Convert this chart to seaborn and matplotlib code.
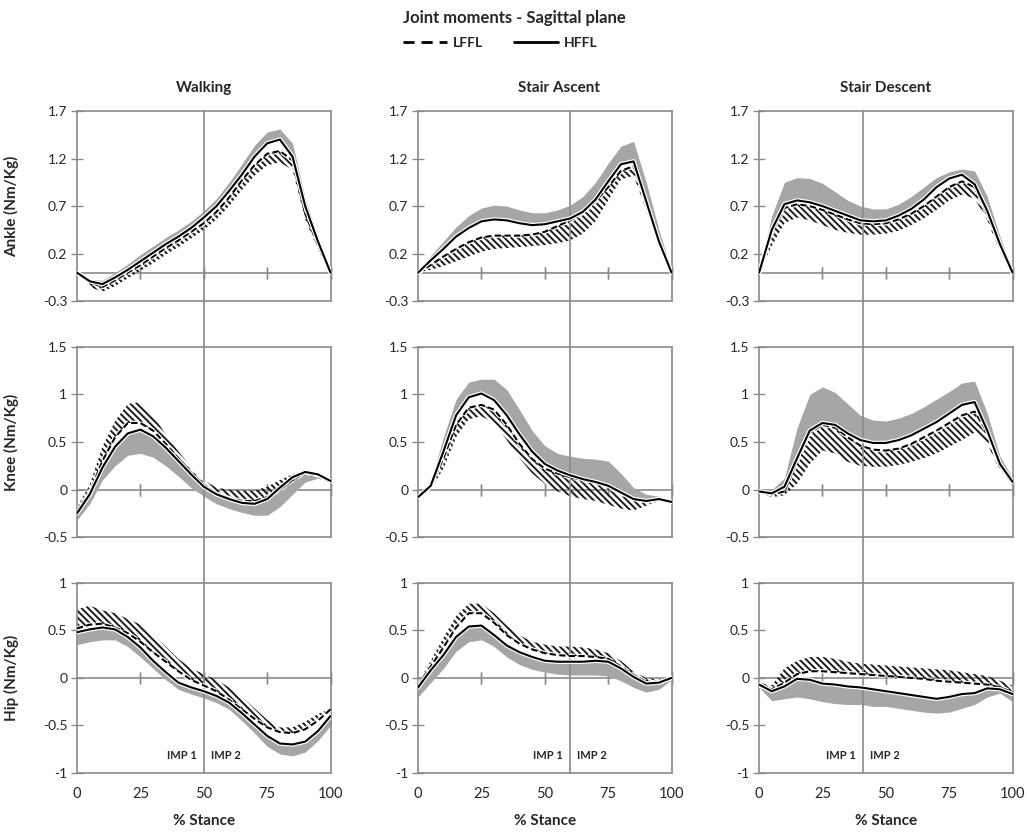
import matplotlib
matplotlib.use("Agg")
import matplotlib.pyplot as plt
from matplotlib.lines import Line2D
import matplotlib.patheffects as pe
import numpy as np
import pandas as pd
import seaborn as sns

# ---------------- data ----------------
PCT = list(range(0, 101, 5))
TASKS = ["Walking", "Stair Ascent", "Stair Descent"]
JOINTS = ["Ankle (Nm/Kg)", "Knee (Nm/Kg)", "Hip (Nm/Kg)"]
SPLIT = [50, 60, 41]          # IMP1 / IMP2 boundary (% stance)
GROUPS = ["LFFL", "HFFL"]
XTICKS = [0, 25, 50, 75, 100]
YTICKS_ANKLE = [-0.3, 0.2, 0.7, 1.2, 1.7]
YTICKS_KNEE = [-0.5, 0, 0.5, 1, 1.5]
YTICKS_HIP = [-1, -0.5, 0, 0.5, 1]
YLABELS_ANKLE = ["-0.3", "0.2", "0.7", "1.2", "1.7"]
YLABELS_KNEE = ["-0.5", "0", "0.5", "1", "1.5"]
YLABELS_HIP = ["-1", "-0.5", "0", "0.5", "1"]

# Ankle - walking
WA_ANK_H = [0, -0.09, -0.12, -0.05, 0.03, 0.12, 0.21, 0.30, 0.38, 0.47, 0.58, 0.70, 0.86, 1.03, 1.22, 1.36, 1.40, 1.22, 0.70, 0.33, 0]
WA_ANK_H_SD = [0.01, -0.07, -0.08, 0.0, 0.09, 0.19, 0.28, 0.37, 0.45, 0.54, 0.65, 0.78, 0.95, 1.14, 1.34, 1.48, 1.51, 1.36, 0.78, 0.37, 0.01]
WA_ANK_L = [0, -0.10, -0.15, -0.08, 0.0, 0.08, 0.17, 0.26, 0.34, 0.43, 0.52, 0.64, 0.79, 0.97, 1.13, 1.25, 1.28, 1.18, 0.62, 0.29, 0]
WA_ANK_L_SD = [0, -0.15, -0.20, -0.14, -0.06, 0.02, 0.10, 0.19, 0.27, 0.36, 0.45, 0.56, 0.70, 0.87, 1.02, 1.13, 1.16, 1.08, 0.56, 0.24, 0]
# Ankle - stair ascent
SA_ANK_H = [0, 0.13, 0.25, 0.38, 0.47, 0.54, 0.56, 0.55, 0.52, 0.50, 0.51, 0.54, 0.57, 0.64, 0.77, 0.96, 1.14, 1.17, 0.75, 0.33, 0]
SA_ANK_H_SD = [0.01, 0.18, 0.33, 0.48, 0.60, 0.68, 0.71, 0.70, 0.66, 0.63, 0.63, 0.66, 0.71, 0.80, 0.95, 1.15, 1.33, 1.38, 0.95, 0.45, 0.02]
SA_ANK_L = [0, 0.08, 0.17, 0.25, 0.32, 0.37, 0.39, 0.39, 0.39, 0.40, 0.43, 0.49, 0.55, 0.63, 0.75, 0.90, 1.07, 1.12, 0.73, 0.32, 0]
SA_ANK_L_SD = [0, 0.03, 0.07, 0.12, 0.17, 0.22, 0.25, 0.26, 0.27, 0.28, 0.29, 0.31, 0.34, 0.41, 0.54, 0.76, 0.98, 1.02, 0.66, 0.28, 0]
# Ankle - stair descent
SD_ANK_H = [0, 0.45, 0.72, 0.76, 0.74, 0.70, 0.65, 0.60, 0.55, 0.54, 0.55, 0.60, 0.67, 0.77, 0.90, 0.99, 1.03, 0.93, 0.65, 0.30, 0]
SD_ANK_H_SD = [0.01, 0.60, 0.95, 1.00, 0.99, 0.94, 0.85, 0.76, 0.70, 0.67, 0.67, 0.72, 0.80, 0.90, 1.00, 1.06, 1.09, 1.07, 0.80, 0.38, 0.02]
SD_ANK_L = [0, 0.42, 0.68, 0.72, 0.70, 0.66, 0.61, 0.56, 0.52, 0.51, 0.52, 0.56, 0.62, 0.70, 0.80, 0.90, 0.96, 0.90, 0.62, 0.28, 0]
SD_ANK_L_SD = [0, 0.28, 0.52, 0.58, 0.55, 0.50, 0.45, 0.42, 0.40, 0.40, 0.41, 0.44, 0.50, 0.57, 0.66, 0.76, 0.82, 0.78, 0.55, 0.22, 0]

# Knee - walking
WA_KNE_H = [-0.25, -0.05, 0.23, 0.45, 0.59, 0.63, 0.56, 0.44, 0.30, 0.16, 0.03, -0.05, -0.10, -0.14, -0.15, -0.10, 0.02, 0.13, 0.185, 0.16, 0.09]
WA_KNE_H_SD = [-0.32, -0.15, 0.10, 0.25, 0.36, 0.38, 0.34, 0.25, 0.14, 0.02, -0.07, -0.15, -0.20, -0.24, -0.27, -0.27, -0.18, -0.05, 0.08, 0.12, 0.08]
WA_KNE_L = [-0.22, -0.03, 0.30, 0.55, 0.70, 0.70, 0.62, 0.48, 0.33, 0.18, 0.05, -0.04, -0.09, -0.12, -0.12, -0.08, 0.0, 0.10, 0.18, 0.15, 0.08]
WA_KNE_L_SD = [-0.18, 0.05, 0.45, 0.72, 0.90, 0.92, 0.78, 0.58, 0.40, 0.24, 0.10, 0.02, 0.0, -0.01, -0.01, 0.03, 0.10, 0.16, 0.20, 0.17, 0.08]
# Knee - stair ascent
SA_KNE_H = [-0.08, 0.04, 0.40, 0.78, 0.97, 1.01, 0.94, 0.78, 0.58, 0.40, 0.27, 0.20, 0.15, 0.11, 0.08, 0.04, -0.03, -0.10, -0.12, -0.10, -0.13]
SA_KNE_H_SD = [-0.06, 0.08, 0.55, 0.95, 1.13, 1.16, 1.16, 1.05, 0.84, 0.62, 0.46, 0.38, 0.35, 0.33, 0.32, 0.30, 0.17, 0.02, -0.05, -0.07, -0.12]
SA_KNE_L = [-0.08, 0.03, 0.33, 0.68, 0.86, 0.89, 0.84, 0.68, 0.48, 0.32, 0.22, 0.17, 0.13, 0.10, 0.07, 0.03, -0.04, -0.10, -0.13, -0.10, -0.14]
SA_KNE_L_SD = [-0.10, 0.0, 0.22, 0.55, 0.74, 0.77, 0.70, 0.52, 0.33, 0.17, 0.06, -0.02, -0.07, -0.10, -0.12, -0.16, -0.20, -0.22, -0.17, -0.12, -0.15]
# Knee - stair descent
SD_KNE_H = [-0.02, -0.04, 0.03, 0.33, 0.62, 0.70, 0.68, 0.59, 0.52, 0.49, 0.49, 0.52, 0.57, 0.64, 0.71, 0.80, 0.89, 0.92, 0.62, 0.27, 0.08]
SD_KNE_H_SD = [-0.01, 0.0, 0.12, 0.65, 1.00, 1.08, 1.02, 0.90, 0.78, 0.73, 0.72, 0.75, 0.80, 0.87, 0.95, 1.03, 1.12, 1.14, 0.80, 0.35, 0.12]
SD_KNE_L = [-0.02, -0.05, -0.02, 0.30, 0.60, 0.68, 0.65, 0.55, 0.46, 0.42, 0.41, 0.43, 0.48, 0.55, 0.62, 0.70, 0.78, 0.82, 0.60, 0.25, 0.06]
SD_KNE_L_SD = [-0.03, -0.08, -0.06, 0.06, 0.27, 0.41, 0.38, 0.29, 0.25, 0.24, 0.24, 0.26, 0.29, 0.33, 0.38, 0.45, 0.52, 0.60, 0.48, 0.20, 0.05]

# Hip - walking
WA_HIP_H = [0.48, 0.51, 0.53, 0.51, 0.43, 0.32, 0.18, 0.06, -0.05, -0.10, -0.14, -0.19, -0.26, -0.37, -0.49, -0.61, -0.69, -0.70, -0.67, -0.56, -0.40]
WA_HIP_H_SD = [0.35, 0.38, 0.40, 0.40, 0.33, 0.22, 0.10, -0.02, -0.12, -0.17, -0.21, -0.26, -0.33, -0.45, -0.58, -0.72, -0.80, -0.82, -0.78, -0.66, -0.50]
WA_HIP_L = [0.52, 0.56, 0.57, 0.53, 0.47, 0.38, 0.27, 0.17, 0.07, -0.02, -0.08, -0.14, -0.23, -0.33, -0.43, -0.52, -0.57, -0.58, -0.54, -0.45, -0.33]
WA_HIP_L_SD = [0.72, 0.76, 0.71, 0.68, 0.62, 0.56, 0.45, 0.33, 0.20, 0.10, 0.04, -0.02, -0.10, -0.20, -0.32, -0.44, -0.52, -0.52, -0.46, -0.38, -0.32]
# Hip - stair ascent
SA_HIP_H = [-0.10, 0.08, 0.24, 0.43, 0.54, 0.55, 0.45, 0.34, 0.27, 0.22, 0.18, 0.17, 0.17, 0.17, 0.18, 0.17, 0.10, 0.01, -0.06, -0.05, 0.0]
SA_HIP_H_SD = [-0.20, -0.05, 0.10, 0.28, 0.38, 0.40, 0.33, 0.22, 0.14, 0.09, 0.06, 0.04, 0.03, 0.03, 0.03, 0.02, -0.03, -0.10, -0.15, -0.12, -0.02]
SA_HIP_L = [-0.08, 0.12, 0.32, 0.53, 0.68, 0.68, 0.58, 0.45, 0.36, 0.30, 0.26, 0.24, 0.23, 0.23, 0.22, 0.20, 0.12, 0.03, -0.04, -0.05, 0.0]
SA_HIP_L_SD = [-0.05, 0.18, 0.42, 0.65, 0.78, 0.78, 0.68, 0.55, 0.45, 0.38, 0.35, 0.33, 0.33, 0.32, 0.30, 0.26, 0.18, 0.07, 0.0, -0.02, 0.02]
# Hip - stair descent
SD_HIP_H = [-0.07, -0.14, -0.09, -0.01, -0.02, -0.06, -0.07, -0.09, -0.10, -0.12, -0.14, -0.16, -0.18, -0.20, -0.22, -0.20, -0.17, -0.16, -0.11, -0.12, -0.17]
SD_HIP_H_SD = [-0.10, -0.24, -0.22, -0.20, -0.22, -0.25, -0.27, -0.28, -0.28, -0.30, -0.30, -0.32, -0.34, -0.36, -0.37, -0.36, -0.32, -0.28, -0.20, -0.16, -0.25]
SD_HIP_L = [-0.08, -0.12, -0.05, 0.04, 0.07, 0.07, 0.06, 0.05, 0.04, 0.03, 0.02, 0.01, 0.0, -0.01, -0.03, -0.04, -0.05, -0.06, -0.07, -0.10, -0.15]
SD_HIP_L_SD = [-0.05, -0.08, 0.10, 0.18, 0.22, 0.22, 0.20, 0.17, 0.15, 0.14, 0.13, 0.12, 0.11, 0.10, 0.09, 0.08, 0.06, 0.04, 0.02, -0.03, -0.08]

# lookup built from the named arrays: [row][col] -> (H, H_SD, L, L_SD)
PANELS = [
    [(WA_ANK_H, WA_ANK_H_SD, WA_ANK_L, WA_ANK_L_SD),
     (SA_ANK_H, SA_ANK_H_SD, SA_ANK_L, SA_ANK_L_SD),
     (SD_ANK_H, SD_ANK_H_SD, SD_ANK_L, SD_ANK_L_SD)],
    [(WA_KNE_H, WA_KNE_H_SD, WA_KNE_L, WA_KNE_L_SD),
     (SA_KNE_H, SA_KNE_H_SD, SA_KNE_L, SA_KNE_L_SD),
     (SD_KNE_H, SD_KNE_H_SD, SD_KNE_L, SD_KNE_L_SD)],
    [(WA_HIP_H, WA_HIP_H_SD, WA_HIP_L, WA_HIP_L_SD),
     (SA_HIP_H, SA_HIP_H_SD, SA_HIP_L, SA_HIP_L_SD),
     (SD_HIP_H, SD_HIP_H_SD, SD_HIP_L, SD_HIP_L_SD)],
]
YTICKS = [YTICKS_ANKLE, YTICKS_KNEE, YTICKS_HIP]
YLABS = [YLABELS_ANKLE, YLABELS_KNEE, YLABELS_HIP]

# ---------------- style ----------------
sns.set_theme(style="white")
plt.rcParams["font.family"] = ["Lato", "DejaVu Sans"]
plt.rcParams["hatch.linewidth"] = 1.4

FRAME = "#8a8a8a"
GRAY = "#a6a6a6"
TXT = "#262626"
HSPACE = 0.24

fig, axes = plt.subplots(3, 3, figsize=(10.27, 8.32), dpi=100)
fig.subplots_adjust(left=0.075, right=0.986, top=0.8666, bottom=0.0709,
                    wspace=0.345, hspace=HSPACE)

halo = [pe.Stroke(linewidth=3.2, foreground="white"), pe.Normal()]

for r in range(3):
    for c in range(3):
        ax = axes[r, c]
        H, H_SD, L, L_SD = PANELS[r][c]
        ymin, ymax = YTICKS[r][0], YTICKS[r][-1]

        ax.fill_between(PCT, H, H_SD, color=GRAY, lw=0, zorder=1)
        ax.fill_between(PCT, L, L_SD, facecolor="none", edgecolor="#1a1a1a",
                        hatch="\\\\\\\\\\", lw=0, zorder=2)

        df = pd.DataFrame({"pct": PCT, "LFFL": L, "HFFL": H}).melt(
            "pct", var_name="group", value_name="moment")
        sns.lineplot(data=df, x="pct", y="moment", hue="group", style="group",
                     palette={"LFFL": "black", "HFFL": "black"},
                     dashes={"LFFL": (3, 1.6), "HFFL": ""},
                     hue_order=GROUPS, style_order=GROUPS,
                     ax=ax, legend=False, lw=1.5, zorder=4)
        for ln in ax.lines:
            ln.set_path_effects(halo)

        ax.set_xlim(0, 100)
        ax.set_ylim(ymin, ymax)
        ax.set_yticks(YTICKS[r])
        ax.set_yticklabels(YLABS[r])
        for sp in ax.spines.values():
            sp.set_visible(True)
            sp.set_color(FRAME)
            sp.set_linewidth(1.2)
        ax.tick_params(axis="y", left=True, direction="inout", length=8, width=1,
                       color=FRAME, labelsize=10, labelcolor=TXT, pad=3)
        ax.set_ylabel("")
        ax.set_xlabel("")

        # zero line with tick marks
        zpos = (0 - ymin) / (ymax - ymin)
        sec = ax.secondary_xaxis(zpos)
        sec.set_xticks(XTICKS[1:], labels=[""] * 4)
        sec.tick_params(axis="x", direction="inout", length=8, width=1, color=FRAME,
                        top=True, bottom=True, labeltop=False, labelbottom=False)
        for sp in sec.spines.values():
            sp.set_color(FRAME)
            sp.set_linewidth(1.2)

        # phase boundary line spanning the column
        ax.axvline(SPLIT[c], ymin=(0 if r == 2 else -HSPACE), ymax=1,
                   color=FRAME, lw=1.2, clip_on=False, zorder=3)

        if r == 2:
            ax.set_xticks(XTICKS)
            ax.set_xticklabels([str(v) for v in XTICKS])
            ax.tick_params(axis="x", bottom=True, length=0, pad=10,
                           labelsize=10.5, labelcolor=TXT)
            ax.set_xlabel("% Stance", fontsize=11, fontweight="bold", color=TXT)
            ax.xaxis.set_label_coords(0.5, -0.215)
            ax.annotate("IMP 1", xy=(SPLIT[c], -0.82), xytext=(-5, 0),
                        textcoords="offset points", ha="right", va="center",
                        fontsize=8, fontweight="bold", color=TXT)
            ax.annotate("IMP 2", xy=(SPLIT[c], -0.82), xytext=(5, 0),
                        textcoords="offset points", ha="left", va="center",
                        fontsize=8, fontweight="bold", color=TXT)
        else:
            ax.set_xticks(XTICKS)
            ax.tick_params(axis="x", length=0, labelbottom=False)

        if c == 0:
            ax.set_ylabel(JOINTS[r], fontsize=11, fontweight="bold", color=TXT)
            ax.yaxis.set_label_coords(-0.23, 0.5)

        if r == 0:
            xoff = [0.5, 0.557, 0.5][c]
            ax.text(xoff, 1.12, TASKS[c], transform=ax.transAxes, ha="center",
                    va="center", fontsize=11, fontweight="bold", color=TXT)

fig.text(0.501, 1 - 18 / 832, "Joint moments - Sagittal plane", ha="center",
         va="center", fontsize=12, fontweight="bold", color=TXT)

handles = [Line2D([], [], color="black", lw=2, dashes=(4, 2.5)),
           Line2D([], [], color="black", lw=2)]
fig.legend(handles, GROUPS, ncol=2, loc="center", bbox_to_anchor=(0.487, 1 - 43 / 832),
           frameon=False, handlelength=3.2, columnspacing=2.2, handletextpad=0.4,
           prop={"weight": "bold", "size": 10})

fig.savefig("out.png", dpi=100)
